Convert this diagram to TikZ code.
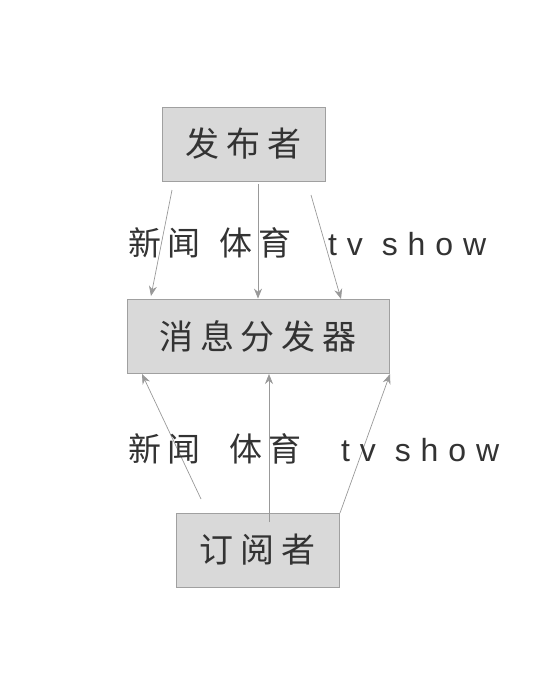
\documentclass[tikz,border=0pt]{standalone}
\usepackage{fontspec}
\newfontfamily\cjk[LetterSpace=20]{Noto Sans CJK SC}
\newfontfamily\latn[LetterSpace=31]{Liberation Sans}
\usetikzlibrary{arrows.meta}
\definecolor{boxfill}{HTML}{D9D9D9}
\definecolor{boxline}{HTML}{A0A0A0}
\definecolor{arr}{HTML}{999999}
\definecolor{txt}{HTML}{333333}
\tikzset{
  box/.style={draw=boxline, fill=boxfill, line width=0.8pt, inner sep=0pt, minimum height=74pt, text=txt,
    font=\cjk\fontsize{34}{40}\selectfont},
  lbl/.style={text=txt, inner sep=0pt, anchor=base west, font=\cjk\fontsize{33}{40}\selectfont},
  lat/.style={text=txt, inner sep=0pt, anchor=base west, font=\latn\fontsize{32}{38}\selectfont},
  conn/.style={draw=arr, line width=0.7pt, -{Stealth[length=10pt,width=8pt]}}
}
\begin{document}
\begin{tikzpicture}[x=1pt,y=-1pt]
\useasboundingbox (0,0) rectangle (548,673);
\node[box, minimum width=163pt] (pub) at (243.5,144) {发布者};
\node[box, minimum width=262pt] (brk) at (258,336) {消息分发器};
\node[box, minimum width=163pt] (sub) at (257.5,550) {订阅者};

\coordinate (p1) at (172,190);
\coordinate (p3) at (311,195);
\coordinate (b1) at (151,296);
\coordinate (b3) at (341,299);
\draw[conn] (p1) -- (b1);
\draw[conn] (pub.south -| brk.north) ++(0,3) -- (brk.north);
\draw[conn] (p3) -- (b3);

\coordinate (s1) at (201,499);
\coordinate (s2) at (269,522);
\coordinate (s3) at (340,513);
\coordinate (c1) at (142,374);
\coordinate (c2) at (269,374);
\coordinate (c3) at (390,374);
\draw[conn] (s1) -- (c1);
\draw[conn] (s2) -- (c2);
\draw[conn] (s3) -- (c3);

\node[lbl] (t1) at (128,255) {新闻};
\node[lbl] (t2) at (219,255) {体育};
\node[lat] (t3) at (328,255) {tv show};
\node[lbl] (u1) at (128,461) {新闻};
\node[lbl] (u2) at (229,461) {体育};
\node[lat] (u3) at (341,461) {tv show};
\end{tikzpicture}
\end{document}
